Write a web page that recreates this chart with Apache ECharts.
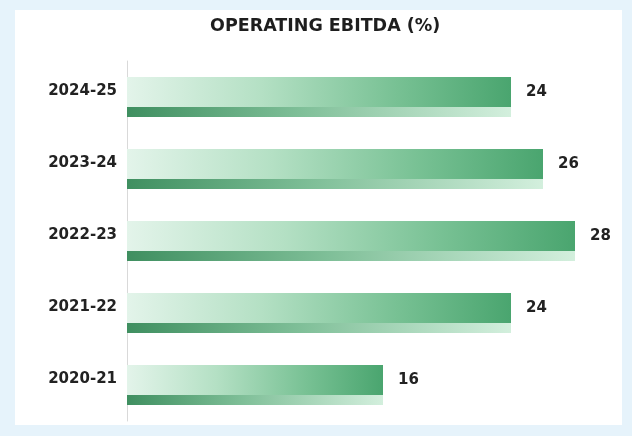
<!DOCTYPE html>
<html>
<head>
<meta charset="utf-8">
<style>
  html, body { margin: 0; padding: 0; background: #e6f3fb; }
  #chart { width: 632px; height: 436px; }
</style>
<script src="https://cdn.jsdelivr.net/npm/echarts@6/dist/echarts.min.js"></script>
</head>
<body>
<div id="chart"></div>
<script>
// Operating EBITDA margin by financial year (%)
const categories = ['2020-21', '2021-22', '2022-23', '2023-24', '2024-25'];
const ebitdaPct = [16, 24, 28, 26, 24];
const chartTitle = 'OPERATING EBITDA (%)';

const FONT = 'DejaVu Sans';
const chart = echarts.init(document.getElementById('chart'), null, { renderer: 'canvas' });

// main bar: pale mint on the left deepening to green at the tip
const mainFill = new echarts.graphic.LinearGradient(0, 0, 1, 0, [
  { offset: 0, color: '#e3f4ea' },
  { offset: 0.35, color: '#b4e0c4' },
  { offset: 0.7, color: '#78c194' },
  { offset: 1, color: '#4aa56f' }
]);
// thin under-strip: dark green on the left fading out to the right
const stripFill = new echarts.graphic.LinearGradient(0, 0, 1, 0, [
  { offset: 0, color: '#3f8f60' },
  { offset: 0.45, color: '#7fbf98' },
  { offset: 1, color: '#d3efdd' }
]);

chart.setOption({
  backgroundColor: '#e6f3fb',
  animation: false,
  graphic: [{
    type: 'rect',
    z: -10,
    shape: { x: 15, y: 10, width: 607, height: 415 },
    style: { fill: '#ffffff' }
  }],
  title: {
    text: chartTitle,
    left: 205,
    top: 12,
    textStyle: { fontFamily: FONT, fontWeight: 'bold', fontSize: 17.5, color: '#1e1e1e' }
  },
  grid: { left: 127, right: 25, top: 61, bottom: 15 },
  xAxis: { type: 'value', min: 0, max: 30, show: false },
  yAxis: {
    type: 'category',
    data: categories,
    axisLine: { show: true, lineStyle: { color: '#d9d9d9', width: 1 } },
    axisTick: { show: false },
    splitLine: { show: false },
    axisLabel: {
      margin: 10,
      verticalAlign: 'bottom',
      lineHeight: 12,
      fontFamily: FONT,
      fontWeight: 'bold',
      fontSize: 15,
      color: '#222222'
    }
  },
  series: [
    {
      name: 'Operating EBITDA',
      type: 'bar',
      data: ebitdaPct,
      barWidth: 30,
      barGap: '0%',
      itemStyle: { color: mainFill },
      label: {
        show: true,
        position: 'right',
        distance: 15,
        fontFamily: FONT,
        fontWeight: 'bold',
        fontSize: 15,
        color: '#222222'
      }
    },
    {
      name: 'strip',
      type: 'bar',
      data: ebitdaPct,
      barWidth: 10,
      barGap: '0%',
      silent: true,
      itemStyle: { color: stripFill }
    }
  ]
});
</script>
</body>
</html>
